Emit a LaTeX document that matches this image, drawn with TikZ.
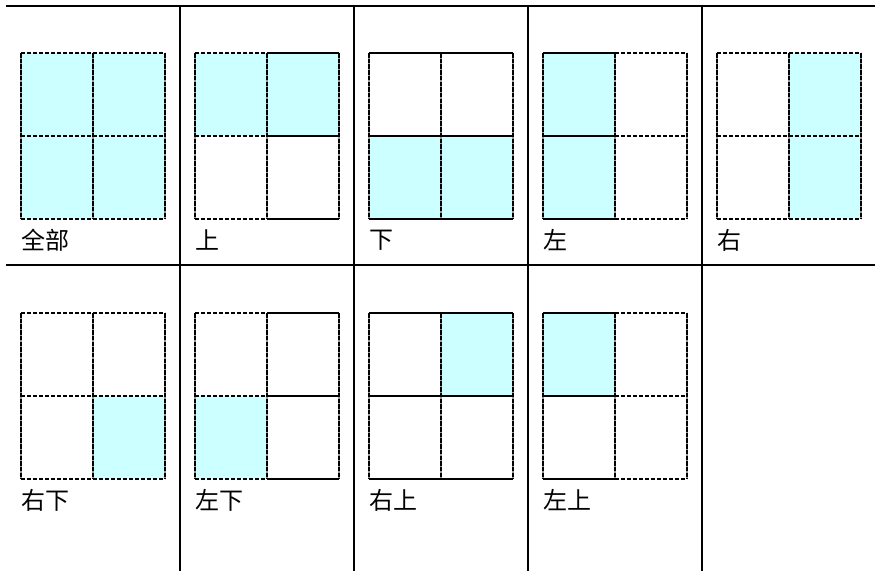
\documentclass[tikz,border=0pt]{standalone}
\usepackage{fontspec}
\newfontfamily\cjk{Noto Sans CJK SC}
\usepackage{tikz}
\definecolor{SelCyan}{HTML}{CCFFFF}

\begin{document}
\begin{tikzpicture}[x=1pt,y=-1pt,
    rule/.style={line width=2.2pt},
    hsolid/.style={line width=2.3pt},
    hdash/.style={line width=2.3pt, dash pattern=on 4pt off 2pt},
    vunder/.style={line width=2.3pt, draw=black!40},
    vdash/.style={line width=2.3pt, dash pattern=on 4.5pt off 1.2pt},
    cell/.style={fill=SelCyan},
    panellabel/.style={anchor=west, inner sep=0pt,
      font=\cjk\fontsize{24}{24}\selectfont}
  ]
  \useasboundingbox (0,0) rectangle (875,571);

  % table rules
  \draw[rule] (6,6) -- (875,6);
  \draw[rule] (6,265) -- (875,265);
  \foreach \x in {180,354,528,702}
    \draw[rule] (\x,6) -- (\x,571);

  % panels: column/row/label/filled cells/left and right horizontals
  \foreach \c/\r/\name/\tl/\tr/\bl/\br/\hl/\hr in {
      0/0/全部/1/1/1/1/hdash/hdash,
      1/0/上/1/1/0/0/hdash/hsolid,
      2/0/下/0/0/1/1/hsolid/hsolid,
      3/0/左/1/0/1/0/hsolid/hdash,
      4/0/右/0/1/0/1/hdash/hdash,
      0/1/右下/0/0/0/1/hdash/hdash,
      1/1/左下/0/0/1/0/hdash/hsolid,
      2/1/右上/0/1/0/0/hsolid/hsolid,
      3/1/左上/1/0/0/0/hsolid/hdash}
  {
    \pgfmathsetmacro{\gx}{21+174*\c}
    \pgfmathsetmacro{\gy}{53+260*\r}
    \begin{scope}[shift={(\gx,\gy)}]
      \ifnum\tl=1 \fill[cell] (0,0) rectangle (72,83); \fi
      \ifnum\tr=1 \fill[cell] (72,0) rectangle (144,83); \fi
      \ifnum\bl=1 \fill[cell] (0,83) rectangle (72,166); \fi
      \ifnum\br=1 \fill[cell] (72,83) rectangle (144,166); \fi
      \foreach \vx in {0,72,144} {
        \draw[vunder] (\vx,0) -- (\vx,166);
        \draw[vdash] (\vx,0) -- (\vx,166);
      }
      \foreach \hy in {0,83,166} {
        \draw[\hl] (0,\hy) -- (72,\hy);
        \draw[\hr] (72,\hy) -- (144,\hy);
      }
      \node[panellabel] (label-\c-\r) at (0,187) {\name};
    \end{scope}
  }
\end{tikzpicture}
\end{document}
